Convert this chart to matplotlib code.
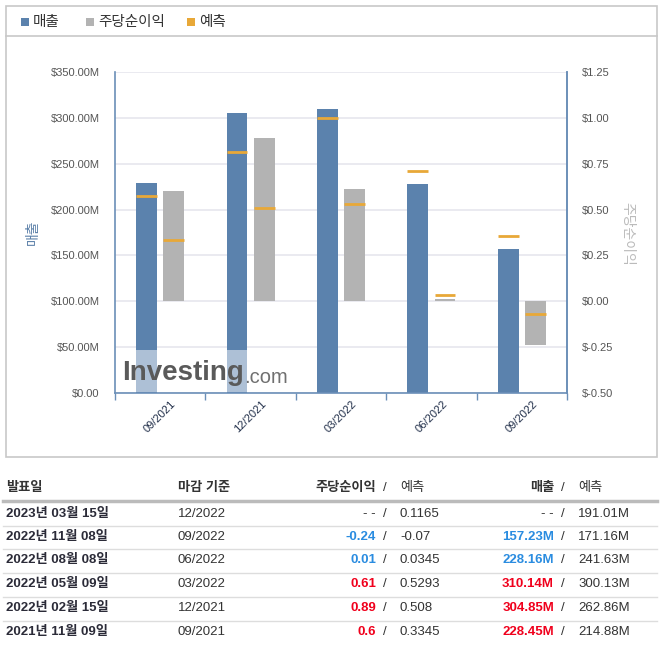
import matplotlib
matplotlib.use("Agg")
import matplotlib.pyplot as plt
import matplotlib.patches as mpatches
from matplotlib.lines import Line2D
import numpy as np

plt.rcParams["font.family"] = ["Liberation Sans", "Noto Sans CJK KR", "DejaVu Sans"]

BLUE = "#5b82ad"
GRAY = "#b3b3b3"
ORANGE = "#e8a838"
AXIS = "#6b8fb8"
GRID = "#e6e6ee"
TEXT = "#333333"
UP = "#f0001c"
DOWN = "#2a8ce0"

# chart data (oldest -> newest)
periods = ["09/2021", "12/2021", "03/2022", "06/2022", "09/2022"]
revenue = [228.45, 304.85, 310.14, 228.16, 157.23]          # $M
revenue_fc = [214.88, 262.86, 300.13, 241.63, 171.16]       # $M
eps = [0.6, 0.89, 0.61, 0.01, -0.24]
eps_fc = [0.3345, 0.508, 0.5293, 0.0345, -0.07]

# table data (newest -> oldest)
tbl_dates = ["2023년 03월 15일", "2022년 11월 08일", "2022년 08월 08일",
             "2022년 05월 09일", "2022년 02월 15일", "2021년 11월 09일"]
tbl_period = ["12/2022", "09/2022", "06/2022", "03/2022", "12/2021", "09/2021"]
tbl_eps = [None, -0.24, 0.01, 0.61, 0.89, 0.6]
tbl_eps_fc = ["0.1165", "-0.07", "0.0345", "0.5293", "0.508", "0.3345"]
tbl_rev = [None, 157.23, 228.16, 310.14, 304.85, 228.45]
tbl_rev_fc = [191.01, 171.16, 241.63, 300.13, 262.86, 214.88]

W, H = 660, 651
fig = plt.figure(figsize=(W / 100, H / 100), dpi=100)
fig.patch.set_facecolor("white")


def fx(x):
    return x / W


def fy(y):
    return 1 - y / H


# outer frame + legend separator
fig.patches.append(mpatches.Rectangle((fx(6), fy(457)), fx(651), (451) / H, transform=fig.transFigure,
                                      fill=False, edgecolor="#c8c8c8", lw=1.2))
fig.lines.append(Line2D([fx(6), fx(657)], [fy(36), fy(36)], transform=fig.transFigure, color="#c8c8c8", lw=1.2))

# legend
for sx, col, lab in [(21, BLUE, "매출"), (86, GRAY, "주당순이익"), (187, ORANGE, "예측")]:
    fig.patches.append(mpatches.Rectangle((fx(sx), fy(26)), 8 / W, 8 / H, transform=fig.transFigure,
                                          facecolor=col, edgecolor="none"))
    fig.text(fx(sx + 12), fy(22), lab, fontsize=10.5, color=TEXT, va="center", ha="left")

# plot area
ax = fig.add_axes([fx(115), fy(393), (567 - 115) / W, (393 - 72) / H])
ax2 = ax.twinx()

x = np.arange(len(periods))
bw = 0.23
off = 0.15

ax.bar(x - off, revenue, bw, color=BLUE, zorder=2)
ax.hlines(revenue_fc, x - off - bw / 2, x - off + bw / 2, color=ORANGE, lw=2, zorder=3)

ax2.bar(x + off, eps, bw, color=GRAY, zorder=2)
ax2.hlines(eps_fc, x + off - bw / 2, x + off + bw / 2, color=ORANGE, lw=2, zorder=3)

ax.set_xlim(-0.5, len(periods) - 0.5)
ax.set_ylim(0, 350)
ax2.set_ylim(-0.5, 1.25)
ax.set_yticks(np.arange(0, 351, 50))
ax2.set_yticks(np.arange(-0.5, 1.26, 0.25))
ax.set_yticklabels(["$0.00"] + [f"${v:.2f}M" for v in np.arange(50, 351, 50)])
ax2.set_yticklabels([f"${v:.2f}" for v in np.arange(-0.5, 1.26, 0.25)])
ax.grid(axis="y", color=GRID, lw=1.2, zorder=0)
ax.set_axisbelow(True)

ax.set_xticks(x)
ax.set_xticklabels(periods, rotation=45, ha="center", fontsize=8, color="#1f2d48")
ax.set_xticks(np.arange(-0.5, len(periods), 1), minor=True)
ax.tick_params(axis="x", which="major", length=0, pad=4)
ax.tick_params(axis="x", which="minor", length=5, color=AXIS, width=1)
ax.tick_params(axis="y", length=0, pad=11, labelsize=8, labelcolor="#555555")
ax2.tick_params(axis="y", length=0, pad=11, labelsize=8, labelcolor="#555555")

for a in (ax, ax2):
    a.spines["top"].set_visible(False)
    for s in ("left", "right", "bottom"):
        a.spines[s].set_color(AXIS)
        a.spines[s].set_linewidth(1.2)
ax2.spines["left"].set_visible(False)
ax2.spines["bottom"].set_visible(False)

fig.text(fx(33), fy(232), "매출", rotation=90, fontsize=10, color="#5a7fa8", ha="center", va="center")
fig.text(fx(627), fy(234), "주당순이익", rotation=270, fontsize=10, color="#bbbbbb", ha="center", va="center")

# watermark
ax2.add_patch(mpatches.Rectangle((1.5 / 452, 1.5 / 321), (283 - 116) / 452, 42 / 321, transform=ax2.transAxes,
                                 facecolor="white", alpha=0.5, edgecolor="none", zorder=5))
ax2.text(7 / 452, 20 / 321, "Investing", transform=ax2.transAxes, fontsize=20, fontweight="bold",
         color="#5a5a5a", ha="left", va="center", zorder=6)
ax2.text(129 / 452, 16 / 321, ".com", transform=ax2.transAxes, fontsize=14.5,
         color="#707070", ha="left", va="center", zorder=6)

# table
fs = 9.5
hy = 488
fig.text(fx(6), fy(hy), "발표일", fontsize=fs, fontweight="bold", color=TEXT, va="center")
fig.text(fx(178), fy(hy), "마감 기준", fontsize=fs, fontweight="bold", color=TEXT, va="center")
fig.text(fx(376), fy(hy), "주당순이익", fontsize=fs, fontweight="bold", color=TEXT, va="center", ha="right")
fig.text(fx(383), fy(hy), "/", fontsize=fs, color=TEXT, va="center")
fig.text(fx(400), fy(hy), "예측", fontsize=fs, color=TEXT, va="center")
fig.text(fx(554), fy(hy), "매출", fontsize=fs, fontweight="bold", color=TEXT, va="center", ha="right")
fig.text(fx(561), fy(hy), "/", fontsize=fs, color=TEXT, va="center")
fig.text(fx(578), fy(hy), "예측", fontsize=fs, color=TEXT, va="center")
fig.lines.append(Line2D([fx(3), fx(657)], [fy(501), fy(501)], transform=fig.transFigure, color="#bbbbbb", lw=2.5))

row_y = [514, 537, 560, 584, 608, 632]
for i, ry in enumerate(row_y):
    fig.text(fx(6), fy(ry), tbl_dates[i], fontsize=fs, fontweight="bold", color="#2b2b38", va="center")
    fig.text(fx(178), fy(ry), tbl_period[i], fontsize=fs, color=TEXT, va="center")
    e = tbl_eps[i]
    if e is None:
        fig.text(fx(376), fy(ry), "- -", fontsize=fs, color=TEXT, va="center", ha="right")
    else:
        col = UP if e > float(tbl_eps_fc[i]) else DOWN
        fig.text(fx(376), fy(ry), str(e), fontsize=fs, fontweight="bold", color=col, va="center", ha="right")
    fig.text(fx(383), fy(ry), "/", fontsize=fs, color=TEXT, va="center")
    fig.text(fx(400), fy(ry), tbl_eps_fc[i], fontsize=fs, color=TEXT, va="center")
    r = tbl_rev[i]
    if r is None:
        fig.text(fx(554), fy(ry), "- -", fontsize=fs, color=TEXT, va="center", ha="right")
    else:
        col = UP if r > tbl_rev_fc[i] else DOWN
        fig.text(fx(554), fy(ry), f"{r:.2f}M", fontsize=fs, fontweight="bold", color=col, va="center", ha="right")
    fig.text(fx(561), fy(ry), "/", fontsize=fs, color=TEXT, va="center")
    fig.text(fx(578), fy(ry), f"{tbl_rev_fc[i]:.2f}M", fontsize=fs, color=TEXT, va="center")
    if i < len(row_y) - 1:
        ly = (ry + row_y[i + 1]) / 2 + 0.5
        fig.lines.append(Line2D([fx(3), fx(657)], [fy(ly), fy(ly)], transform=fig.transFigure,
                                color="#dddddd", lw=1))

fig.savefig("out.png", dpi=100, facecolor="white")
